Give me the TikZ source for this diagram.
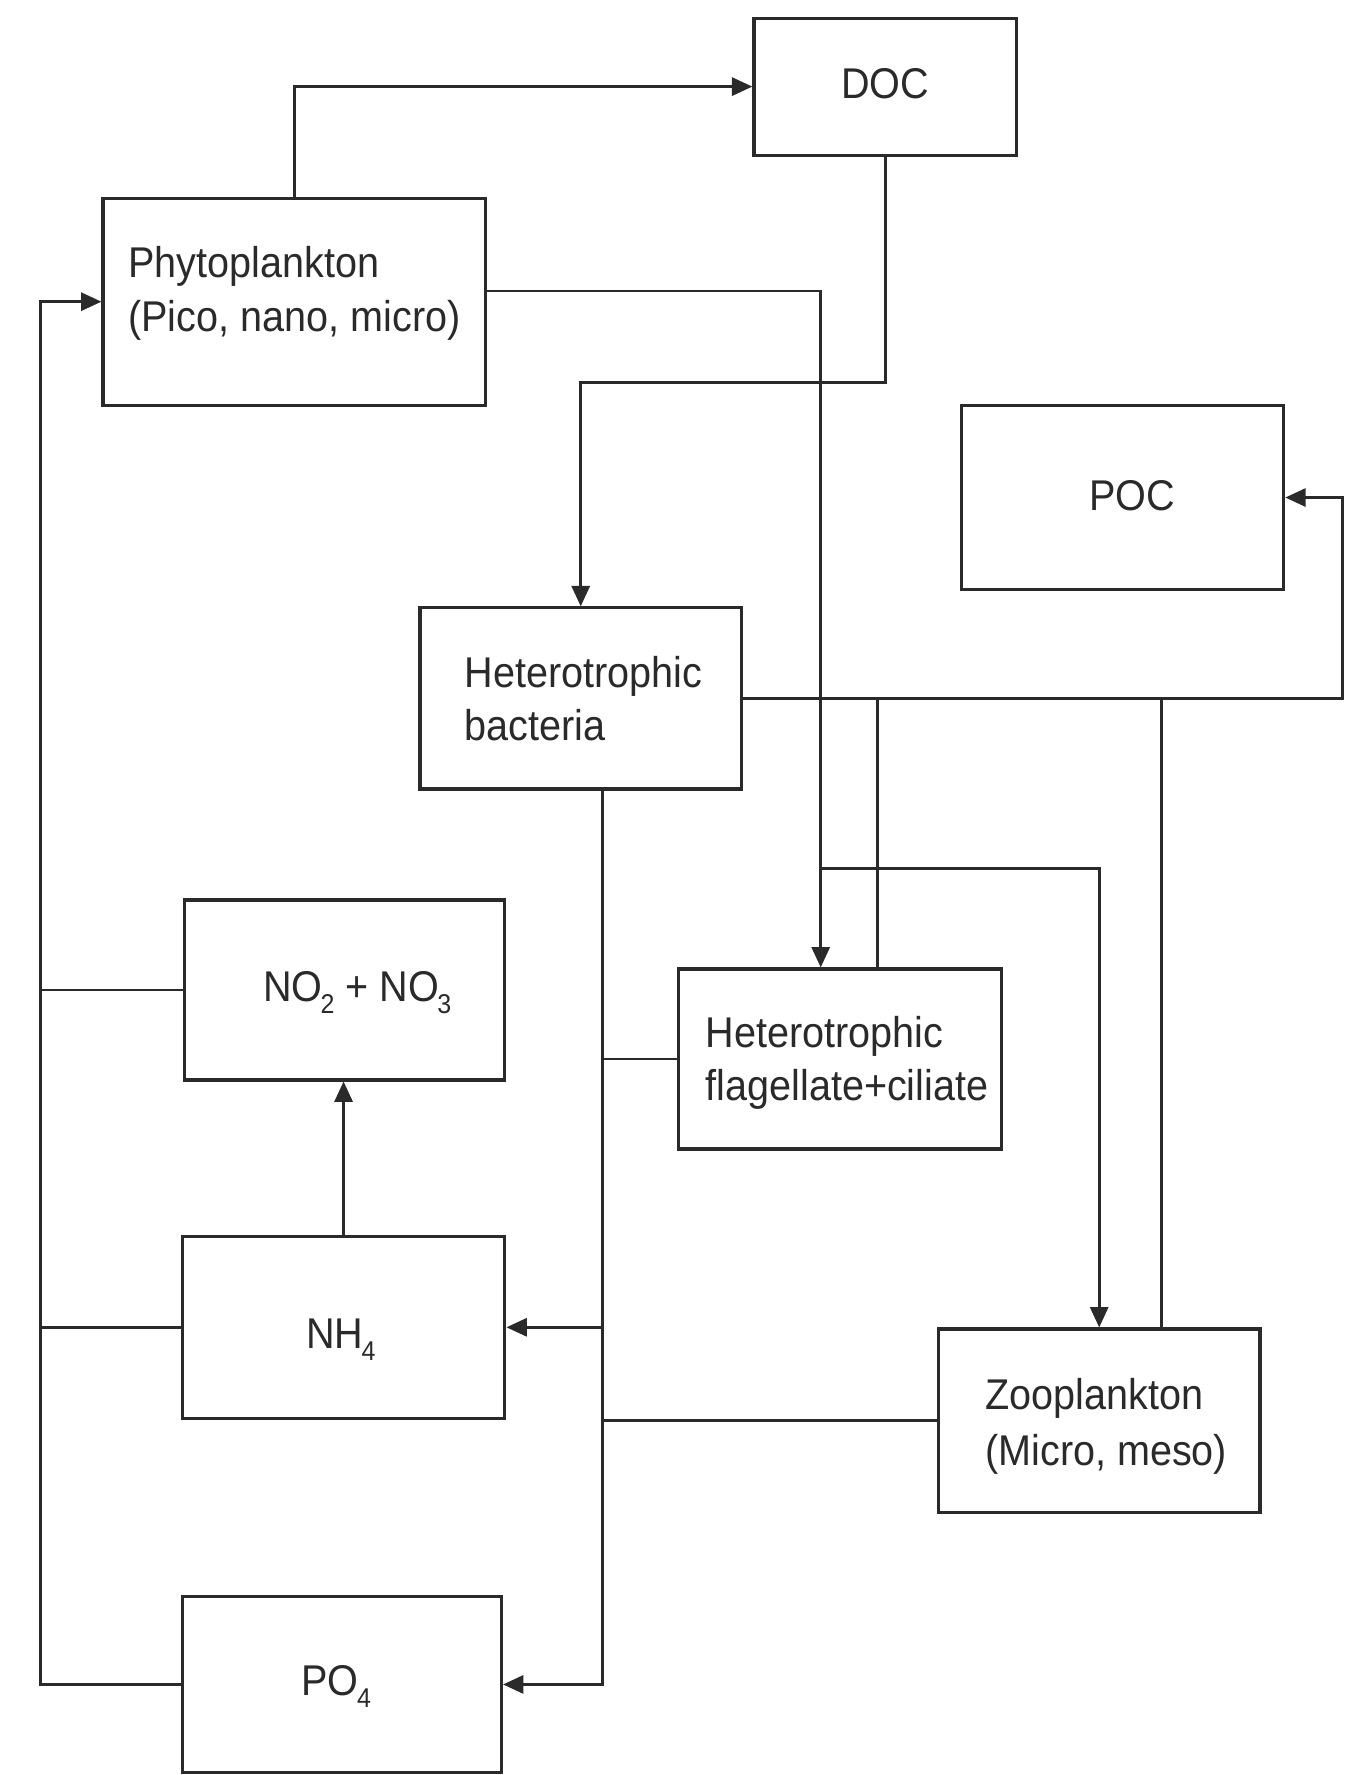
\documentclass[tikz,border=0pt]{standalone}
\usepackage{fontspec}
\setmainfont[FakeStretch=0.92]{Liberation Sans}
\usetikzlibrary{arrows.meta}
\definecolor{ink}{HTML}{2A2A2A}
\newcommand{\sbs}[1]{\kern-0.04em\raisebox{-0.28em}{\fontsize{12}{12}\selectfont #1}}
\begin{document}
\begin{tikzpicture}[x=0.5pt,y=-0.5pt,
  box/.style={draw=ink, line width=1.4pt, rectangle, inner sep=0pt},
  lbl/.style={inner sep=0pt, text=ink, font=\fontsize{19}{23}\selectfont},
  conn/.style={draw=ink, line width=1.2pt},
  arr/.style={conn, -{Triangle[length=9pt,width=8pt]}}]
\fill[white] (0,0) rectangle (1191,1568);
\useasboundingbox (0,0) rectangle (1191,1568);
% boxes
\node[box, minimum width=116pt, minimum height=60.5pt] (doc) at (782,76.5) {};
\node[box, minimum width=169pt, minimum height=91.5pt] (phyto) at (260,266.5) {};
\node[box, minimum width=142.5pt, minimum height=81.5pt] (poc) at (991.5,439.5) {};
\node[box, minimum width=142pt, minimum height=80pt] (bact) at (513,617) {};
\node[box, minimum width=141.5pt, minimum height=79.5pt] (no) at (304.5,874.5) {};
\node[box, minimum width=143pt, minimum height=79.5pt] (flag) at (742,935.5) {};
\node[box, minimum width=142.5pt, minimum height=80.5pt] (nh) at (303.5,1172.5) {};
\node[box, minimum width=142pt, minimum height=81pt] (zoo) at (971,1255) {};
\node[box, minimum width=141pt, minimum height=78pt] (po) at (302,1488) {};
% labels
\node[lbl, anchor=base] (tdoc) at (782,87) {DOC};
\node[lbl, anchor=base] (tpoc) at (1000,451) {POC};
\node[lbl, anchor=base west] (tphy1) at (113,245) {Phytoplankton};
\node[lbl, anchor=base west] (tphy2) at (113,293) {(Pico, nano, micro)};
\node[lbl, anchor=base west] (tbac1) at (410,607) {Heterotrophic};
\node[lbl, anchor=base west] (tbac2) at (410,654) {bacteria};
\node[lbl, anchor=base west] (tno) at (232,885) {NO\sbs{2} + NO\sbs{3}};
\node[lbl, anchor=base west] (tfla1) at (623,925) {Heterotrophic};
\node[lbl, anchor=base west] (tfla2) at (623,972) {flagellate+ciliate};
\node[lbl, anchor=base west] (tnh) at (270,1191) {NH\sbs{4}};
\node[lbl, anchor=base west] (tzoo1) at (870,1245) {Zooplankton};
\node[lbl, anchor=base west] (tzoo2) at (870,1295) {(Micro, meso)};
\node[lbl, anchor=base west] (tpo) at (266,1498) {PO\sbs{4}};
% turning points
\coordinate (docturn) at (782,338);
\coordinate (pf) at (725,257);
\coordinate (pz) at (725,767);
\coordinate (pocR) at (1186,617);
\coordinate (fu) at (775,617);
\coordinate (zu) at (1026,617);
\coordinate (bd) at (532,1488);
\coordinate (lb) at (36,1488);
% connectors
\draw[arr] (phyto.north) |- (doc.west);
\draw[arr] (doc.south) -- (docturn) -| (bact.north);
\draw[arr] (phyto.east |- pf) -- (pf) -- (pf |- flag.north);
\draw[arr] (pz) -| (zoo.north);
\draw[arr] (bact.east) -- (pocR) |- (poc.east);
\draw[conn] (fu) -- (fu |- flag.north);
\draw[conn] (zu) -- (zu |- zoo.north);
\draw[arr] (bd |- bact.south) -- (bd) -- (po.east);
\draw[arr] (bd |- nh.east) -- (nh.east);
\draw[conn] (flag.west) -- (flag.west -| bd);
\draw[conn] (zoo.west) -- (zoo.west -| bd);
\draw[arr] (nh.north) -- (nh.north |- no.south);
\draw[arr] (po.west) -- (lb) |- (phyto.west);
\draw[conn] (no.west) -- (no.west -| lb);
\draw[conn] (nh.west) -- (nh.west -| lb);
\end{tikzpicture}
\end{document}
